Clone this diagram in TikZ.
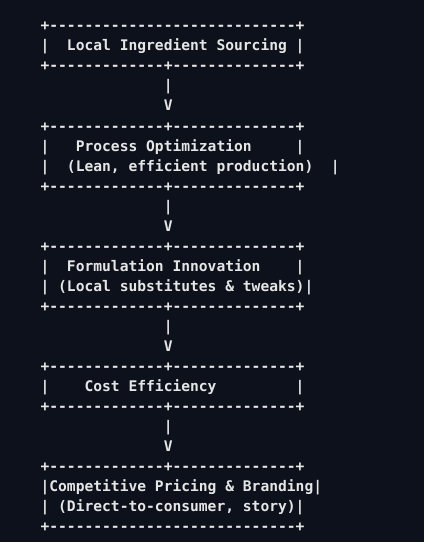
\documentclass[tikz,border=0pt]{standalone}
\usepackage{fontspec}
\setmonofont{DejaVu Sans Mono}
\definecolor{bg}{HTML}{0D111B}
\definecolor{fg}{HTML}{E6E6E6}
\newcommand{\rowy}[1]{24+20.04*#1+6.8}
\tikzset{
  asciirow/.style={anchor=base west, inner sep=0pt, outer sep=0pt, text=fg,
    font=\ttfamily\bfseries\fontsize{10.96}{13}\selectfont},
}
\begin{document}
\begin{tikzpicture}[x=0.75pt,y=-0.75pt]
\frenchspacing
\fill[bg] (0,0) rectangle (424,542);
\useasboundingbox (0,0) rectangle (424,542);
\def\cw{8.8}
\def\xo{40.6}
% box 1
\node[asciirow] (r0) at (\xo,{\rowy{0}}) {+----------------------------+};
\node[asciirow] (r1) at (\xo,{\rowy{1}}) {|~~Local~Ingredient~Sourcing~|};
\node[asciirow] (r2) at (\xo,{\rowy{2}}) {+-------------+--------------+};
\node[asciirow] (r3) at ({\xo+14*\cw},{\rowy{3}}) {|};
\node[asciirow] (r4) at ({\xo+14*\cw},{\rowy{4}}) {V};
% box 2
\node[asciirow] (r5) at (\xo,{\rowy{5}}) {+-------------+--------------+};
\node[asciirow] (r6) at (\xo,{\rowy{6}}) {|~~~Process~Optimization~~~~~|};
\node[asciirow] (r7) at (\xo,{\rowy{7}}) {|~~(Lean,~efficient~production)~~|};
\node[asciirow] (r8) at (\xo,{\rowy{8}}) {+-------------+--------------+};
\node[asciirow] (r9) at ({\xo+14*\cw},{\rowy{9}}) {|};
\node[asciirow] (r10) at ({\xo+14*\cw},{\rowy{10}}) {V};
% box 3
\node[asciirow] (r11) at (\xo,{\rowy{11}}) {+-------------+--------------+};
\node[asciirow] (r12) at (\xo,{\rowy{12}}) {|~~Formulation~Innovation~~~~|};
\node[asciirow] (r13) at (\xo,{\rowy{13}}) {|~(Local~substitutes~\&~tweaks)|};
\node[asciirow] (r14) at (\xo,{\rowy{14}}) {+-------------+--------------+};
\node[asciirow] (r15) at ({\xo+14*\cw},{\rowy{15}}) {|};
\node[asciirow] (r16) at ({\xo+14*\cw},{\rowy{16}}) {V};
% box 4
\node[asciirow] (r17) at (\xo,{\rowy{17}}) {+-------------+--------------+};
\node[asciirow] (r18) at (\xo,{\rowy{18}}) {|~~~~Cost~Efficiency~~~~~~~~~|};
\node[asciirow] (r19) at (\xo,{\rowy{19}}) {+-------------+--------------+};
\node[asciirow] (r20) at ({\xo+14*\cw},{\rowy{20}}) {|};
\node[asciirow] (r21) at ({\xo+14*\cw},{\rowy{21}}) {V};
% box 5
\node[asciirow] (r22) at (\xo,{\rowy{22}}) {+-------------+--------------+};
\node[asciirow] (r23) at (\xo,{\rowy{23}}) {|Competitive~Pricing~\&~Branding|};
\node[asciirow] (r24) at (\xo,{\rowy{24}}) {|~(Direct-to-consumer,~story)|};
\node[asciirow] (r25) at (\xo,{\rowy{25}}) {+----------------------------+};
\end{tikzpicture}
\end{document}
